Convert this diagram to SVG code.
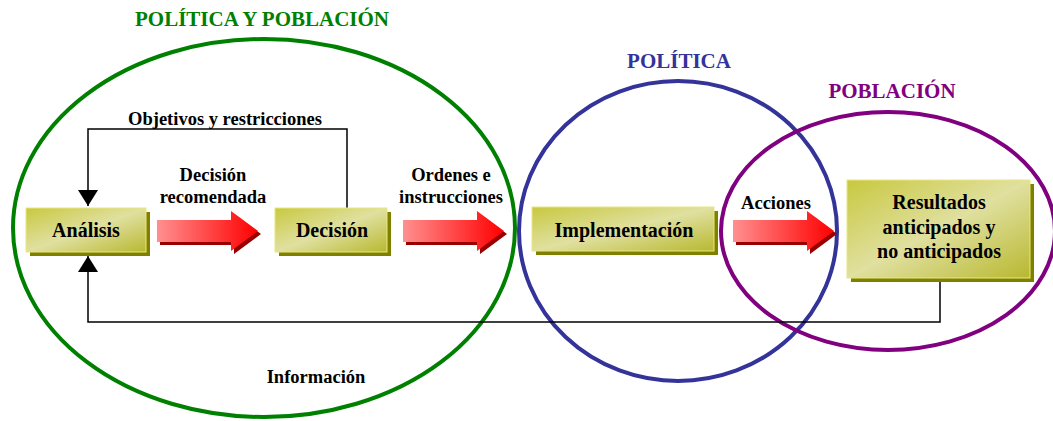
<svg xmlns="http://www.w3.org/2000/svg" width="1053" height="421" viewBox="0 0 1053 421">
<style>
text{font-family:"Liberation Serif","Times New Roman","DejaVu Serif",serif;font-weight:bold}
.t{fill:#000;text-anchor:middle}
.lbl{font-size:18.5px}
.box{font-size:20px}
.title{font-size:21px;text-anchor:middle}
.conn{fill:none;stroke:#000;stroke-width:1.5}
.face{fill:url(#boxg);stroke:#e8e880;stroke-width:1}
.shadow{fill:#808000}
.ar{fill:url(#arg)}
.arsh{fill:#990000}
</style>
<defs>
<linearGradient id="boxg" x1="0" y1="0" x2="1" y2="1">
<stop offset="0" stop-color="#c8c840"/>
<stop offset="0.5" stop-color="#e0e0a0"/>
<stop offset="1" stop-color="#b8b830"/>
</linearGradient>
<linearGradient id="arg" x1="0" y1="0" x2="1" y2="0">
<stop offset="0" stop-color="#ff9090"/>
<stop offset="1" stop-color="#ff0000"/>
</linearGradient>
<marker id="ahl" markerWidth="16" markerHeight="20" refX="16" refY="10" orient="auto" markerUnits="userSpaceOnUse">
<path d="M0,0 L16,10 L0,20 Z" fill="#000"/>
</marker>
<symbol id="arrow" viewBox="0 0 104 42" overflow="visible">
<path class="arsh" d="M3,13 L77,13 L77,4 L104,24 L77,44 L77,35 L3,35 Z"/>
<path class="ar" d="M0,10 L74,10 L74,1 L101,21 L74,41 L74,32 L0,32 Z"/>
</symbol>
</defs>

<g id="ellipses">
<ellipse cx="264" cy="228" rx="251" ry="189" fill="none" stroke="#008000" stroke-width="4"/>
<ellipse cx="678" cy="231" rx="159" ry="150" fill="none" stroke="#333399" stroke-width="4"/>
<ellipse cx="888" cy="231" rx="167" ry="119" fill="none" stroke="#800080" stroke-width="4"/>
</g>

<g id="titles">
<text class="title" x="262" y="26" fill="#008000">POLÍTICA Y POBLACIÓN</text>
<text class="title" x="679" y="68" fill="#333399">POLÍTICA</text>
<text class="title" x="892" y="98" fill="#800080">POBLACIÓN</text>
</g>

<g id="connectors">
<path class="conn" d="M347,208 V129 H88 V206" marker-end="url(#ahl)"/>
<path class="conn" d="M940,282 V322 H88 V256" marker-end="url(#ahl)"/>
</g>

<g id="labels">
<text class="t lbl" x="225" y="125">Objetivos y restricciones</text>
<text class="t lbl" x="213" y="181">Decisión</text>
<text class="t lbl" x="213" y="203">recomendada</text>
<text class="t lbl" x="451" y="181">Ordenes e</text>
<text class="t lbl" x="451" y="203">instrucciones</text>
<text class="t lbl" x="776" y="209">Acciones</text>
<text class="t lbl" x="316" y="383">Información</text>
</g>

<g id="arrows">
<use href="#arrow" x="157" y="210" width="104" height="42"/>
<use href="#arrow" x="403" y="210" width="104" height="42"/>
<use href="#arrow" x="733" y="210" width="104" height="42"/>
</g>

<g id="analisis">
<rect class="shadow" x="30" y="212" width="120" height="44"/>
<rect class="face" x="26" y="208" width="120" height="44"/>
<text class="t box" x="86" y="237">Análisis</text>
</g>
<g id="decision">
<rect class="shadow" x="279" y="212" width="112" height="44"/>
<rect class="face" x="275" y="208" width="112" height="44"/>
<text class="t box" x="332" y="237">Decisión</text>
</g>
<g id="implementacion">
<rect class="shadow" x="536" y="211" width="182" height="44"/>
<rect class="face" x="532" y="207" width="182" height="44"/>
<text class="t box" x="624" y="237">Implementación</text>
</g>
<g id="resultados">
<rect class="shadow" x="851" y="184" width="183" height="98"/>
<rect class="face" x="847" y="180" width="183" height="98"/>
<text class="t box" x="939" y="209">Resultados</text>
<text class="t box" x="939" y="234">anticipados y</text>
<text class="t box" x="939" y="258">no anticipados</text>
</g>
</svg>
